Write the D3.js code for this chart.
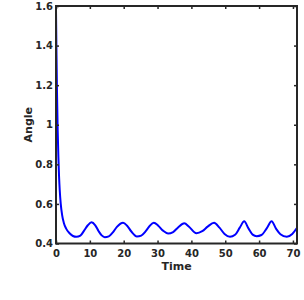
<!DOCTYPE html>
<html>
<head>
<meta charset="utf-8">
<script src="https://cdn.jsdelivr.net/npm/d3@7"></script>
<style>
  body { margin: 0; background: #fff; }
  text { font-family: "DejaVu Sans", sans-serif; font-weight: bold; fill: #262626; }
</style>
</head>
<body>
<div id="chart"></div>
<script>
// time samples and angle values
const time = [0, 0.15, 0.3, 0.5, 0.7, 0.9, 1.1, 1.4, 1.8, 2.3, 3, 4, 5, 6.0,
  7.2, 8.3, 9.4, 10.5, 11.6, 12.6, 13.5, 14.4, 15.6, 16.8, 18.0, 19.8,
  21.0, 22.2, 23.9, 25.2, 26.4, 27.6, 28.9, 30.2, 31.6, 33.1, 34.6, 36.0,
  37.9, 39.3, 41.5, 43.2, 44.8, 46.7, 48.3, 49.8, 51.4, 52.9, 54.3, 55.6,
  56.9, 58.1, 59.3, 60.7, 62.3, 63.7, 65.0, 66.3, 68.2, 69.8, 71.1];
const angle = [1.58, 1.35, 1.16, 0.97, 0.84, 0.74, 0.67, 0.6, 0.545, 0.505, 0.475, 0.452, 0.438, 0.434,
  0.44, 0.465, 0.492, 0.507, 0.492, 0.462, 0.441, 0.432, 0.436, 0.456, 0.484, 0.505,
  0.49, 0.462, 0.436, 0.44, 0.46, 0.487, 0.505, 0.49, 0.465, 0.451, 0.458, 0.48,
  0.502, 0.485, 0.452, 0.462, 0.485, 0.505, 0.48, 0.448, 0.434, 0.444, 0.48, 0.512,
  0.475, 0.445, 0.437, 0.443, 0.478, 0.512, 0.475, 0.447, 0.434, 0.448, 0.477];

const xTicks = [0, 10, 20, 30, 40, 50, 60, 70];
const yTicks = [0.4, 0.6, 0.8, 1.0, 1.2, 1.4, 1.6];

const width = 304;
const height = 300;
const margin = { top: 6, right: 7, bottom: 56.5, left: 56 };
const plotW = width - margin.left - margin.right;
const plotH = height - margin.top - margin.bottom;

const svg = d3.select("#chart")
    .append("svg")
    .attr("width", width)
    .attr("height", height);

const g = svg.append("g")
    .attr("transform", `translate(${margin.left},${margin.top})`);

const x = d3.scaleLinear().domain([0, 71.2]).range([0, plotW]);
const y = d3.scaleLinear().domain([0.4, 1.6]).range([plotH, 0]);

const data = time.map((t, i) => ({ t: t, a: angle[i] }));

// the curve
g.append("path")
    .datum(data)
    .attr("fill", "none")
    .attr("stroke", "#0000ff")
    .attr("stroke-width", 2)
    .attr("d", d3.line().x(d => x(d.t)).y(d => y(d.a)).curve(d3.curveMonotoneX));

// axes, ticks pointing inward like matlab
const fmt = d => d3.format("")(+d.toFixed(1));

const xAxis = g.append("g")
    .attr("transform", `translate(0,${plotH})`)
    .call(d3.axisBottom(x).tickValues(xTicks).tickSize(-3).tickPadding(6).tickFormat(d3.format("d")));
const xTop = g.append("g")
    .call(d3.axisTop(x).tickValues(xTicks).tickSize(-3).tickFormat(""));
const yAxis = g.append("g")
    .call(d3.axisLeft(y).tickValues(yTicks).tickSize(-3).tickPadding(3).tickFormat(fmt));
const yRight = g.append("g")
    .attr("transform", `translate(${plotW},0)`)
    .call(d3.axisRight(y).tickValues(yTicks).tickSize(-3).tickFormat(""));

[xAxis, xTop, yAxis, yRight].forEach(a => {
    a.select(".domain").remove();
    a.selectAll(".tick line").attr("stroke", "#262626").attr("stroke-width", 1.5);
    a.selectAll(".tick text").attr("font-size", 10).attr("font-family", "DejaVu Sans").attr("font-weight", "bold").attr("fill", "#262626");
});

// box
g.append("rect")
    .attr("x", 0)
    .attr("y", 0)
    .attr("width", plotW)
    .attr("height", plotH)
    .attr("fill", "none")
    .attr("stroke", "#262626")
    .attr("stroke-width", 2);

// axis titles
svg.append("text")
    .attr("x", margin.left + plotW / 2)
    .attr("y", 270)
    .attr("text-anchor", "middle")
    .attr("font-size", 11)
    .text("Time");

svg.append("text")
    .attr("transform", `translate(31.5,${margin.top + plotH / 2}) rotate(-90)`)
    .attr("text-anchor", "middle")
    .attr("font-size", 11)
    .text("Angle");
</script>
</body>
</html>
